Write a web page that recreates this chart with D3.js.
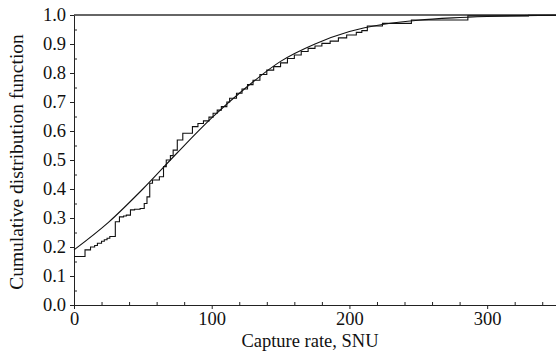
<!DOCTYPE html>
<html>
<head>
<meta charset="utf-8">
<script src="https://cdn.jsdelivr.net/npm/d3@7"></script>
<style>
  body { margin: 0; background: #fff; }
  text { font-family: "Liberation Serif", "DejaVu Serif", serif; fill: #111; }
</style>
</head>
<body>
<div id="chart"></div>
<script>
// smooth model CDF
const fitRate = [0, 25, 50, 75, 100, 125, 150, 175, 200, 225, 250, 275, 300, 325, 350];
const fitCdf  = [0.19, 0.285, 0.40, 0.525, 0.645, 0.75, 0.84, 0.90, 0.943, 0.968, 0.982, 0.99, 0.995, 0.998, 0.999];

// empirical step CDF (rate where each step starts, level after it)
const stepRate = [0, 8, 12, 15, 17, 20, 22, 24, 26, 30, 33, 36, 38, 41, 44, 48, 51, 53, 55, 57, 62, 65, 67, 70, 72, 75, 79, 86, 90, 94, 98, 101, 104, 107, 111, 113, 118, 122, 126, 130, 135, 140, 145, 150, 155, 160, 165, 170, 175, 180, 186, 192, 198, 205, 209, 213, 224, 245, 286, 330, 350];
const stepCdf  = [0.167, 0.19, 0.20, 0.205, 0.213, 0.22, 0.225, 0.23, 0.236, 0.287, 0.304, 0.307, 0.31, 0.328, 0.33, 0.333, 0.35, 0.373, 0.42, 0.431, 0.442, 0.477, 0.50, 0.515, 0.534, 0.569, 0.592, 0.615, 0.626, 0.635, 0.648, 0.661, 0.672, 0.684, 0.70, 0.713, 0.73, 0.745, 0.76, 0.775, 0.795, 0.81, 0.822, 0.835, 0.85, 0.862, 0.874, 0.885, 0.893, 0.902, 0.91, 0.921, 0.931, 0.94, 0.946, 0.962, 0.971, 0.983, 0.997, 0.999, 0.999];

const xMajor = [0, 100, 200, 300];
const yMajor = [0, 0.1, 0.2, 0.3, 0.4, 0.5, 0.6, 0.7, 0.8, 0.9, 1.0];

const width = 556, height = 354;
const marginLeft = 74, plotTop = 15, plotBottom = 305;
const fontSize = "18.5px";

const svg = d3.select("#chart")
    .append("svg")
    .attr("width", width)
    .attr("height", height);

const x = d3.scaleLinear().domain([0, 350]).range([marginLeft, width]);
const y = d3.scaleLinear().domain([0, 1]).range([plotBottom, plotTop]);

// minor ticks, pointing inward
svg.append("g")
    .attr("transform", `translate(${marginLeft},0)`)
    .call(d3.axisLeft(y).tickValues(d3.range(0.05, 1, 0.1)).tickSize(-3).tickFormat(""))
    .call(g => g.select(".domain").remove());
svg.append("g")
    .attr("transform", `translate(0,${plotBottom})`)
    .call(d3.axisBottom(x).tickValues(d3.range(20, 350, 20).filter(v => v % 100 !== 0)).tickSize(-3).tickFormat(""))
    .call(g => g.select(".domain").remove());

// major axes
svg.append("g")
    .attr("transform", `translate(${marginLeft},0)`)
    .call(d3.axisLeft(y).tickValues(yMajor).tickSize(4).tickSizeOuter(0).tickPadding(4).tickFormat(d3.format(".1f")))
    .call(g => g.selectAll("text").style("font-size", fontSize));
svg.append("g")
    .attr("transform", `translate(0,${plotBottom})`)
    .call(d3.axisBottom(x).tickValues(xMajor).tickSize(4).tickSizeOuter(0).tickPadding(3))
    .call(g => g.selectAll("text").style("font-size", fontSize));

svg.selectAll(".domain, .tick line").attr("stroke", "#222");
svg.selectAll(".tick text").attr("fill", "#111").attr("font-family", "Liberation Serif, serif");

// top frame
svg.append("line")
    .attr("x1", marginLeft).attr("x2", width)
    .attr("y1", y(1)).attr("y2", y(1))
    .attr("stroke", "#333")
    .attr("stroke-width", 1.5);

const fit = fitRate.map((r, i) => ({r: r, p: fitCdf[i]}));
const steps = stepRate.map((r, i) => ({r: r, p: stepCdf[i]}));

svg.append("path")
    .datum(fit)
    .attr("fill", "none")
    .attr("stroke", "#111")
    .attr("stroke-width", 1.1)
    .attr("d", d3.line().curve(d3.curveMonotoneX).x(d => x(d.r)).y(d => y(d.p)));

svg.append("path")
    .datum(steps)
    .attr("fill", "none")
    .attr("stroke", "#111")
    .attr("stroke-width", 1.1)
    .attr("d", d3.line().curve(d3.curveStepAfter).x(d => x(d.r)).y(d => y(d.p)));

// axis titles
svg.append("text")
    .attr("x", x(175) - 5)
    .attr("y", 347)
    .attr("text-anchor", "middle")
    .style("font-size", fontSize)
    .text("Capture rate, SNU");

svg.append("text")
    .attr("transform", `translate(23,${(plotTop + plotBottom) / 2 + 2}) rotate(-90)`)
    .attr("text-anchor", "middle")
    .style("font-size", "19.5px")
    .text("Cumulative distribution function");
</script>
</body>
</html>
